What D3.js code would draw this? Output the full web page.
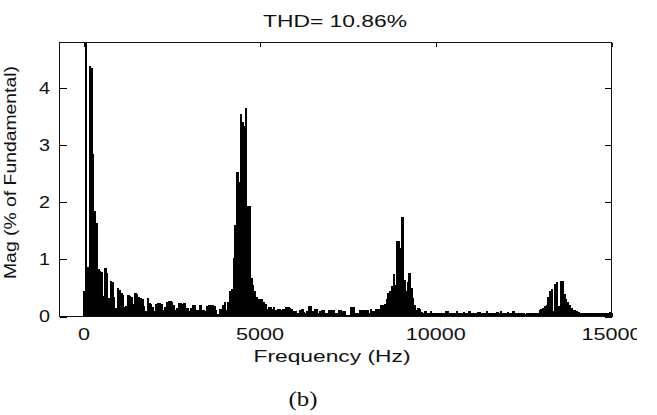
<!DOCTYPE html>
<html>
<head>
<meta charset="utf-8">
<script src="https://cdn.jsdelivr.net/npm/d3@7"></script>
<style>
  body { margin: 0; background: #fff; }
  text { font-family: "Liberation Sans", Arial, sans-serif; fill: #111; }
</style>
</head>
<body>
<script>
// Harmonic spectrum, one bar every 50 Hz (bin 1 = fundamental, 100 %)
const binHz = 50;
const magnitude = [
  // 0 - 950 Hz
  0.44, 100, 0.87, 4.39, 4.35, 2.85, 1.84, 1.64, 0.84, 0.80, 0.78, 0.36, 0.85, 0.77, 0.33, 0.63, 0.60, 0.35, 0.15, 0.50,
  // 1000 - 1950 Hz
  0.47, 0.42, 0.38, 0.16, 0.18, 0.38, 0.36, 0.34, 0.22, 0.42, 0.40, 0.34, 0.33, 0.30, 0.18, 0.09, 0.33, 0.24, 0.22, 0.16,
  // 2000 - 2950 Hz
  0.09, 0.22, 0.24, 0.24, 0.22, 0.12, 0.17, 0.26, 0.28, 0.28, 0.26, 0.20, 0.12, 0.15, 0.24, 0.24, 0.22, 0.24, 0.15, 0.15,
  // 3000 - 3950 Hz
  0.10, 0.15, 0.20, 0.20, 0.12, 0.12, 0.20, 0.12, 0.12, 0.10, 0.18, 0.20, 0.20, 0.20, 0.18, 0.12, 0.04, 0.14, 0.14, 0.20,
  // 4000 - 4950 Hz
  0.26, 0.12, 0.26, 0.44, 0.48, 1.02, 1.60, 2.53, 2.35, 3.54, 3.40, 3.33, 3.65, 1.93, 1.93, 0.67, 0.55, 0.45, 0.35, 0.30,
  // 5000 - 5950 Hz
  0.30, 0.30, 0.25, 0.22, 0.14, 0.16, 0.16, 0.14, 0.16, 0.12, 0.13, 0.13, 0.12, 0.13, 0.14, 0.16, 0.16, 0.15, 0.14, 0.09,
  // 6000 - 6950 Hz
  0.09, 0.07, 0.07, 0.12, 0.13, 0.08, 0.06, 0.10, 0.19, 0.18, 0.10, 0.14, 0.14, 0.07, 0.10, 0.12, 0.12, 0.07, 0.07, 0.12,
  // 7000 - 7950 Hz
  0.12, 0.12, 0.12, 0.06, 0.06, 0.12, 0.12, 0.09, 0.09, 0.03, 0.03, 0.03, 0.16, 0.16, 0.06, 0.06, 0.06, 0.12, 0.12, 0.12,
  // 8000 - 8950 Hz
  0.12, 0.12, 0.06, 0.13, 0.09, 0.09, 0.13, 0.13, 0.13, 0.20, 0.20, 0.22, 0.30, 0.41, 0.45, 0.53, 0.74, 0.56, 1.32, 1.33,
  // 9000 - 9950 Hz
  1.20, 1.75, 0.64, 0.45, 0.60, 0.77, 0.50, 0.32, 0.20, 0.12, 0.15, 0.13, 0.08, 0.07, 0.09, 0.07, 0.07, 0.10, 0.07, 0.07,
  // 10000 - 10950 Hz
  0.06, 0.06, 0.06, 0.07, 0.06, 0.06, 0.09, 0.09, 0.07, 0.07, 0.06, 0.07, 0.10, 0.07, 0.07, 0.06, 0.08, 0.07, 0.06, 0.09,
  // 11000 - 11950 Hz
  0.07, 0.07, 0.06, 0.06, 0.08, 0.08, 0.06, 0.07, 0.07, 0.10, 0.06, 0.07, 0.07, 0.06, 0.06, 0.08, 0.07, 0.09, 0.07, 0.06,
  // 12000 - 12950 Hz
  0.07, 0.08, 0.07, 0.07, 0.09, 0.07, 0.06, 0.07, 0.07, 0.07, 0.06, 0.04, 0.06, 0.06, 0.07, 0.06, 0.06, 0.06, 0.06, 0.12,
  // 13000 - 13950 Hz
  0.14, 0.15, 0.18, 0.20, 0.35, 0.45, 0.48, 0.10, 0.57, 0.60, 0.18, 0.63, 0.62, 0.40, 0.30, 0.26, 0.20, 0.15, 0.12, 0.12,
  // 14000 - 15000 Hz
  0.10, 0.08, 0.07, 0.07, 0.07, 0.07, 0.06, 0.06, 0.06, 0.06, 0.07, 0.06, 0.07, 0.06, 0.06, 0.06, 0.06, 0.06, 0.07, 0.08,
  0.12
];

const xTicks = [0, 5000, 10000, 15000];
const yTicks = [0, 1, 2, 3, 4];
const xLimits = [-700, 15000];
const yLimits = [0, 4.8];
const titleText = 'THD= 10.86%';
const xLabel = 'Frequency (Hz)';
const yLabel = 'Mag (% of Fundamental)';
const captionText = '(b)';

// Size and plot box
const w = 657;
const h = 415;
const boxLeft = 59.5, boxRight = 611.5, boxTop = 42.5, boxBottom = 316.5;
const digitW = 12; // tick labels are drawn wide, like the original bitmap font

const xScale = d3.scaleLinear().domain(xLimits).range([boxLeft, boxRight]);
const yScale = d3.scaleLinear().domain(yLimits).range([boxBottom, boxTop]);

const svg = d3
  .select('body')
  .append('svg')
  .attr('width', w)
  .attr('height', h);

const defs = svg.append('defs');
defs.append('clipPath').attr('id', 'plot-clip')
  .append('rect')
  .attr('x', boxLeft).attr('y', boxTop)
  .attr('width', boxRight - boxLeft).attr('height', boxBottom - boxTop);
defs.append('clipPath').attr('id', 'fig-clip')
  .append('rect')
  .attr('x', 0).attr('y', 0).attr('width', 637).attr('height', h);

const fig = svg.append('g').attr('clip-path', 'url(#fig-clip)');

// Inward ticks on all four sides
fig.append('g')
  .attr('transform', `translate(0,${boxBottom})`)
  .attr('shape-rendering', 'crispEdges')
  .call(d3.axisBottom(xScale).tickValues(xTicks).tickSize(-4).tickSizeOuter(0).tickFormat(''))
  .call(g => g.select('.domain').remove());
fig.append('g')
  .attr('transform', `translate(0,${boxTop})`)
  .attr('shape-rendering', 'crispEdges')
  .call(d3.axisTop(xScale).tickValues(xTicks).tickSize(-4).tickSizeOuter(0).tickFormat(''))
  .call(g => g.select('.domain').remove());
fig.append('g')
  .attr('transform', `translate(${boxLeft},0)`)
  .attr('shape-rendering', 'crispEdges')
  .call(d3.axisLeft(yScale).tickValues(yTicks).tickSize(-7).tickSizeOuter(0).tickFormat(''))
  .call(g => g.select('.domain').remove());
fig.append('g')
  .attr('transform', `translate(${boxRight},0)`)
  .attr('shape-rendering', 'crispEdges')
  .call(d3.axisRight(yScale).tickValues(yTicks).tickSize(-7).tickSizeOuter(0).tickFormat(''))
  .call(g => g.select('.domain').remove());

// Bars (a little overlap so neighbouring bars fuse into one solid shape)
fig.append('g')
  .attr('clip-path', 'url(#plot-clip)')
  .selectAll('rect')
  .data(magnitude)
  .join('rect')
  .attr('x', (d, i) => xScale(i * binHz - binHz / 2))
  .attr('width', (d, i) => xScale(i * binHz + binHz / 2) - xScale(i * binHz - binHz / 2) + 0.6)
  .attr('y', d => yScale(d))
  .attr('height', d => yScale(0) - yScale(d))
  .attr('fill', '#000')
  .attr('shape-rendering', 'crispEdges');

// Box
fig.append('rect')
  .attr('x', boxLeft).attr('y', boxTop)
  .attr('width', boxRight - boxLeft).attr('height', boxBottom - boxTop)
  .attr('fill', 'none')
  .attr('stroke', '#111')
  .attr('stroke-width', 1)
  .attr('shape-rendering', 'crispEdges');

// Tick labels
fig.selectAll('.xtick')
  .data(xTicks)
  .join('text')
  .attr('class', 'xtick')
  .attr('x', d => xScale(d))
  .attr('y', 340)
  .attr('text-anchor', 'middle')
  .attr('font-size', 16)
  .attr('textLength', d => String(d).length * digitW)
  .attr('lengthAdjust', 'spacingAndGlyphs')
  .text(d => d);

fig.selectAll('.ytick')
  .data(yTicks)
  .join('text')
  .attr('class', 'ytick')
  .attr('x', 50)
  .attr('y', d => yScale(d))
  .attr('dy', '0.36em')
  .attr('text-anchor', 'end')
  .attr('font-size', 16)
  .attr('textLength', d => String(d).length * (digitW - 1))
  .attr('lengthAdjust', 'spacingAndGlyphs')
  .text(d => d);

// Title and axis labels
fig.append('text')
  .attr('x', 335)
  .attr('y', 26.5)
  .attr('text-anchor', 'middle')
  .attr('font-size', 16)
  .attr('textLength', 144)
  .attr('lengthAdjust', 'spacingAndGlyphs')
  .text(titleText);

fig.append('text')
  .attr('x', 332)
  .attr('y', 362)
  .attr('text-anchor', 'middle')
  .attr('font-size', 16)
  .attr('textLength', 157)
  .attr('lengthAdjust', 'spacingAndGlyphs')
  .text(xLabel);

fig.append('text')
  .attr('transform', 'translate(16,172.5) rotate(-90)')
  .attr('text-anchor', 'middle')
  .attr('font-size', 16)
  .attr('textLength', 213)
  .attr('lengthAdjust', 'spacingAndGlyphs')
  .text(yLabel);

// Caption under the figure
svg.append('text')
  .attr('x', 303)
  .attr('y', 406)
  .attr('text-anchor', 'middle')
  .attr('font-size', 22)
  .style('font-family', '"Liberation Serif", "Times New Roman", serif')
  .attr('textLength', 29)
  .attr('lengthAdjust', 'spacingAndGlyphs')
  .text(captionText);
</script>
</body>
</html>
